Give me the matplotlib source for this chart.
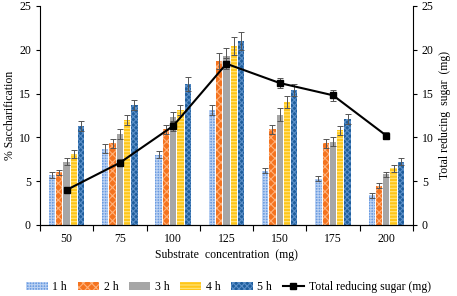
import matplotlib
matplotlib.use("Agg")
import matplotlib.pyplot as plt
import numpy as np
from matplotlib.lines import Line2D
from matplotlib.patches import Patch

plt.rcParams['font.family'] = ['Liberation Serif', 'DejaVu Serif']
plt.rcParams['hatch.linewidth'] = 0.8

categories = ['50', '75', '100', '125', '150', '175', '200']
series_names = ['1 h', '2 h', '3 h', '4 h', '5 h']
h1 = [5.7, 8.7, 8.0, 13.1, 6.2, 5.3, 3.4]
h2 = [6.0, 9.3, 10.9, 18.7, 10.9, 9.3, 4.5]
h3 = [7.2, 10.4, 12.3, 19.3, 12.6, 9.5, 5.8]
h4 = [8.1, 12.0, 13.1, 20.4, 14.0, 10.8, 6.5]
h5 = [11.3, 13.7, 16.1, 21.0, 15.4, 12.1, 7.2]
err1 = [0.3, 0.5, 0.4, 0.6, 0.3, 0.3, 0.3]
err2 = [0.3, 0.5, 0.5, 0.9, 0.5, 0.5, 0.3]
err3 = [0.4, 0.6, 0.6, 0.9, 0.7, 0.5, 0.3]
err4 = [0.5, 0.6, 0.6, 1.0, 0.7, 0.5, 0.4]
err5 = [0.6, 0.6, 0.8, 1.0, 0.7, 0.6, 0.4]
trs = [4.0, 7.1, 11.3, 18.4, 16.2, 14.8, 10.2]
trs_err = [0.3, 0.4, 0.6, 0.6, 0.6, 0.6, 0.4]

colors = ['#6A9BE0', '#F4731F', '#A6A6A6', '#FFC61A', '#1F5E9C']
hatch_cols = ['#B9D0F2', '#FFB27A', '#B4B4B4', '#FFE680', '#5B8FC8']
hatches = ['++++++', 'xxxx', '', '-----', 'xxxxxx']

fig = plt.figure(figsize=(4.57, 2.96), dpi=100)
ax = fig.add_axes([0.0875, 0.24, 0.816, 0.74])
ax2 = ax.twinx()

x = np.arange(len(categories))
step = 0.137
width = 0.118
data = [h1, h2, h3, h4, h5]
errs = [err1, err2, err3, err4, err5]
for i, (vals, e) in enumerate(zip(data, errs)):
    pos = x + (i - 2) * step
    ax.bar(pos, vals, width, color=colors[i], edgecolor=hatch_cols[i],
           linewidth=0, hatch=hatches[i], zorder=2)
    ax.errorbar(pos, vals, yerr=e, fmt='none', ecolor='#555555',
                elinewidth=0.7, capsize=2, capthick=0.7, zorder=3)

ax2.errorbar(x, trs, yerr=trs_err, fmt='none', ecolor='#555555',
             elinewidth=0.7, capsize=2, capthick=0.7, zorder=3)
ax2.plot(x, trs, color='black', marker='s', markersize=5, linewidth=1.5, zorder=4)

for a in (ax, ax2):
    a.set_ylim(0, 25)
    a.set_yticks([0, 5, 10, 15, 20, 25])
    a.tick_params(labelsize=8.5, direction='out', length=3, width=0.8)
    a.spines['top'].set_visible(False)
ax.spines['right'].set_visible(False)
ax2.spines['left'].set_visible(False)

ax.set_xlim(-0.5, len(categories) - 0.5)
ax.set_xticks(x)
ax.set_xticklabels(categories)
ax.set_xticks(np.arange(-0.5, len(categories), 1.0), minor=True)
ax.tick_params(axis='x', which='major', length=0, pad=6)
ax.tick_params(axis='x', which='minor', length=4, width=0.8, direction='out')

ax.set_xlabel('Substrate  concentration  (mg)', fontsize=8.5, labelpad=3)
ax.set_ylabel('% Saccharification', fontsize=8.5, labelpad=2)
ax2.set_ylabel('Total reducing  sugar  (mg)', fontsize=8.5, labelpad=4)

handles = [Patch(facecolor=colors[i], edgecolor=hatch_cols[i], linewidth=0,
                 hatch=hatches[i]) for i in range(5)]
handles.append(Line2D([0], [0], color='black', marker='s', markersize=4, linewidth=1.5))
labels = series_names + ['Total reducing sugar (mg)']
fig.legend(handles, labels, loc='center', bbox_to_anchor=(0.5, 0.03), ncol=6,
           frameon=False, fontsize=8.5, handlelength=1.8, handleheight=0.6,
           columnspacing=0.9, handletextpad=0.4)

fig.savefig('out.png', dpi=100)
